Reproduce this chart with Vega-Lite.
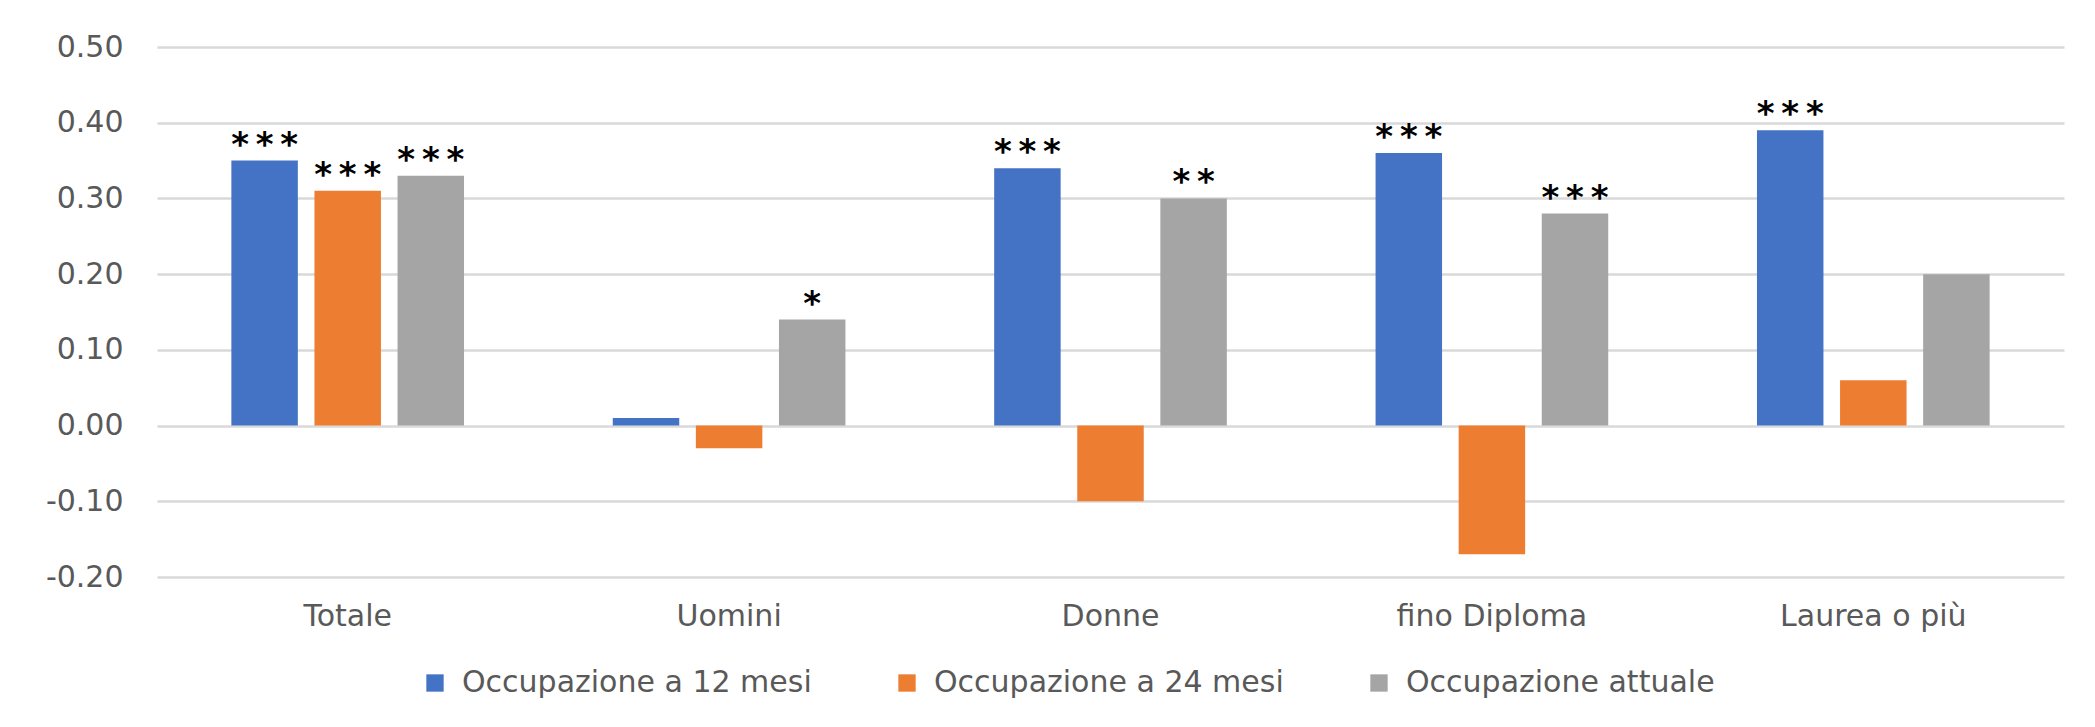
{
  "$schema": "https://vega.github.io/schema/vega-lite/v6.json",
  "width": 1907,
  "height": 530,
  "autosize": {"type": "none"},
  "padding": {"left": 157, "top": 47, "right": 31, "bottom": 150},
  "background": "white",
  "config": {
    "view": {"stroke": null},
    "font": "DejaVu Sans"
  },
  "data": {
    "values": [
      {"cat": "Totale", "series": "Occupazione a 12 mesi", "value": 0.35, "stars": "*\u2009*\u2009*"},
      {"cat": "Totale", "series": "Occupazione a 24 mesi", "value": 0.31, "stars": "*\u2009*\u2009*"},
      {"cat": "Totale", "series": "Occupazione attuale", "value": 0.33, "stars": "*\u2009*\u2009*"},
      {"cat": "Uomini", "series": "Occupazione a 12 mesi", "value": 0.01, "stars": ""},
      {"cat": "Uomini", "series": "Occupazione a 24 mesi", "value": -0.03, "stars": ""},
      {"cat": "Uomini", "series": "Occupazione attuale", "value": 0.14, "stars": "*"},
      {"cat": "Donne", "series": "Occupazione a 12 mesi", "value": 0.34, "stars": "*\u2009*\u2009*"},
      {"cat": "Donne", "series": "Occupazione a 24 mesi", "value": -0.10, "stars": ""},
      {"cat": "Donne", "series": "Occupazione attuale", "value": 0.30, "stars": "*\u2009*"},
      {"cat": "fino Diploma", "series": "Occupazione a 12 mesi", "value": 0.36, "stars": "*\u2009*\u2009*"},
      {"cat": "fino Diploma", "series": "Occupazione a 24 mesi", "value": -0.17, "stars": ""},
      {"cat": "fino Diploma", "series": "Occupazione attuale", "value": 0.28, "stars": "*\u2009*\u2009*"},
      {"cat": "Laurea o più", "series": "Occupazione a 12 mesi", "value": 0.39, "stars": "*\u2009*\u2009*"},
      {"cat": "Laurea o più", "series": "Occupazione a 24 mesi", "value": 0.06, "stars": ""},
      {"cat": "Laurea o più", "series": "Occupazione attuale", "value": 0.20, "stars": ""}
    ]
  },
  "encoding": {
    "x": {
      "field": "cat",
      "type": "nominal",
      "sort": ["Totale", "Uomini", "Donne", "fino Diploma", "Laurea o più"],
      "scale": {"paddingInner": 0.39, "paddingOuter": 0.195},
      "axis": {
        "title": null,
        "labelAngle": 0,
        "domain": false,
        "ticks": false,
        "labelFontSize": 30,
        "labelColor": "#595959",
        "labelPadding": 24,
        "labelLimit": 400
      }
    },
    "xOffset": {
      "field": "series",
      "type": "nominal",
      "scale": {"paddingInner": 0.2, "paddingOuter": 0}
    },
    "y": {
      "field": "value",
      "type": "quantitative",
      "scale": {"domain": [-0.2, 0.5], "nice": false, "zero": false},
      "axis": {
        "title": null,
        "values": [-0.2, -0.1, 0, 0.1, 0.2, 0.3, 0.4, 0.5],
        "format": ".2f",
        "labelExpr": "replace(datum.label, '\u2212', '-')",
        "domain": false,
        "ticks": false,
        "labelFontSize": 30,
        "labelColor": "#595959",
        "labelPadding": 34,
        "gridColor": "#d9d9d9",
        "gridWidth": 2.5
      }
    }
  },
  "layer": [
    {
      "mark": {"type": "bar"},
      "encoding": {
        "color": {
          "field": "series",
          "type": "nominal",
          "scale": {
            "domain": ["Occupazione a 12 mesi", "Occupazione a 24 mesi", "Occupazione attuale"],
            "range": ["#4472C4", "#ED7D31", "#A5A5A5"]
          },
          "legend": {
            "title": null,
            "orient": "none",
            "direction": "horizontal",
            "legendX": 263,
            "legendY": 621,
            "symbolType": "square",
            "symbolSize": 300,
            "symbolStrokeWidth": 0,
            "labelFontSize": 30,
            "labelColor": "#595959",
            "labelOffset": 12,
            "columnPadding": 80,
            "labelLimit": 600
          }
        }
      }
    },
    {
      "transform": [{"filter": "datum.stars != ''"}],
      "mark": {
        "type": "text",
        "baseline": "alphabetic",
        "align": "center",
        "fontSize": 34,
        "fontWeight": "bold",
        "dy": -5,
        "color": "#000000"
      },
      "encoding": {
        "text": {"field": "stars"}
      }
    }
  ]
}
